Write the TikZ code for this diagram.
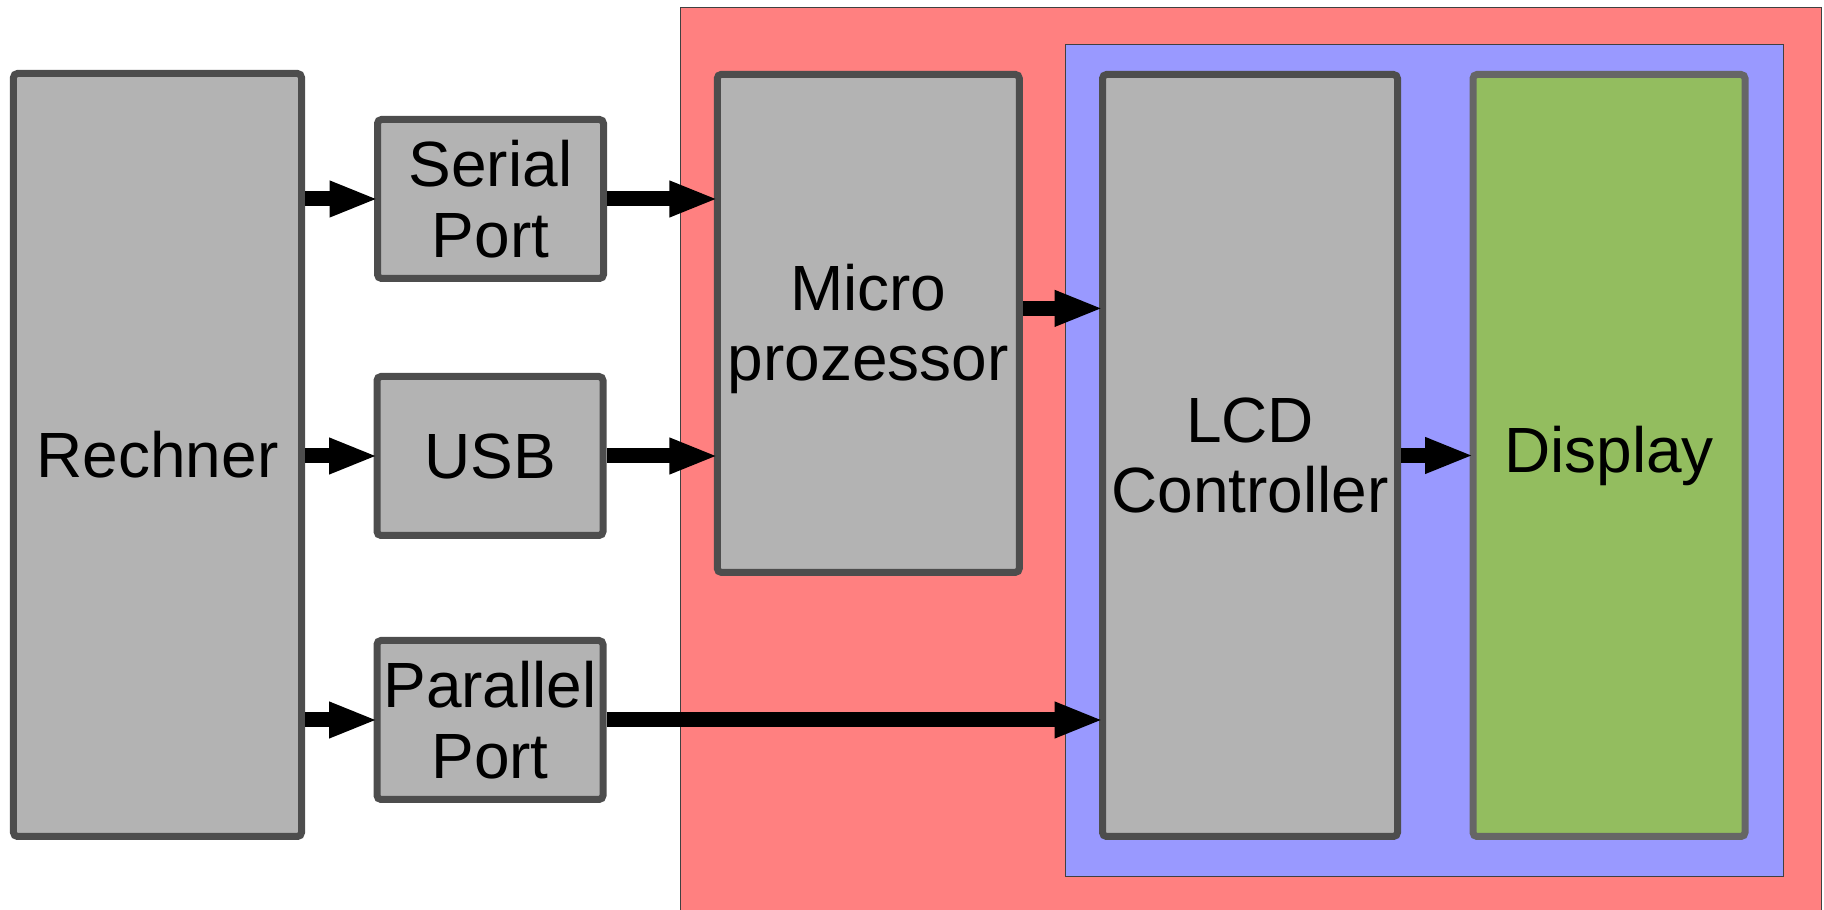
\documentclass[tikz,border=0pt]{standalone}
\usepackage{fontspec}
\setmainfont{Liberation Sans}
\usepackage{tikz}
\usetikzlibrary{calc, positioning, arrows.meta}

\definecolor{boxgray}{HTML}{B3B3B3}
\definecolor{boxline}{HTML}{4D4D4D}
\definecolor{displine}{HTML}{666666}
\definecolor{dispgreen}{HTML}{93BD5F}
\definecolor{boardred}{HTML}{FF8080}
\definecolor{lcdblue}{HTML}{9999FF}

\begin{document}
\begin{tikzpicture}[
		block/.style={draw=boxline, fill=boxgray, line width=0.07cm, rounded corners=0.04cm, align=center, inner sep=0pt, font=\fontsize{18.2}{20.1}\selectfont},
		area/.style={draw=black!75, line width=0.01cm, inner sep=0pt, anchor=north west},
		bus/.style={line width=0.15cm, shorten >=-0.045cm, -{Triangle[length=0.49cm, width=0.33cm]}}
	]
		\useasboundingbox (0,0) rectangle (18.24,-9.10);

		% board and lcd module
		\node[area, fill=boardred, minimum width=11.41cm, minimum height=9.13cm] (board) at (6.80,-0.07) {};
		\node[area, fill=lcdblue, minimum width=7.18cm, minimum height=8.32cm] (module) at (10.65,-0.44) {};

		\node[block, minimum width=2.88cm, minimum height=7.63cm] (Rechner) at (1.575,-4.55) {Rechner};
		\node[block, minimum width=2.26cm, minimum height=1.59cm] (Serial) at (4.905,-1.99) {Serial\\Port};
		\node[block, minimum width=2.26cm, minimum height=1.59cm] (USB) at (4.90,-4.56) {USB};
		\node[block, minimum width=2.26cm, minimum height=1.59cm] (Parallel) at (4.90,-7.20) {Parallel\\Port};
		\node[block, minimum width=3.02cm, minimum height=4.98cm] (Micro) at (8.683,-3.234) {\raisebox{-0.08cm}[\height][\depth]{\begin{tabular}{@{}c@{}}Micro\\prozessor\end{tabular}}};
		\node[block, minimum width=2.95cm, minimum height=7.62cm] (LCD) at (12.50,-4.555) {LCD\\Controller};
		\node[block, draw=displine, fill=dispgreen, minimum width=2.72cm, minimum height=7.62cm] (Display) at (16.09,-4.555) {Display};

		% connections
		\draw[bus] (Rechner.east |- Serial.west) -- (Serial.west);
		\draw[bus] (Rechner.east |- USB.west) -- (USB.west);
		\draw[bus] (Rechner.east |- Parallel.west) -- (Parallel.west);
		\draw[bus] (Serial.east) -- (Serial.east -| Micro.west);
		\draw[bus] (USB.east) -- (USB.east -| Micro.west);
		\draw[bus] ([yshift=0.15cm]Micro.east) -- ([yshift=0.15cm]Micro.east -| LCD.west);
		\draw[bus] (Parallel.east) -- (Parallel.east -| LCD.west);
		\draw[bus] (LCD.east |- Display.west) -- (Display.west);

	\end{tikzpicture}
\end{document}
